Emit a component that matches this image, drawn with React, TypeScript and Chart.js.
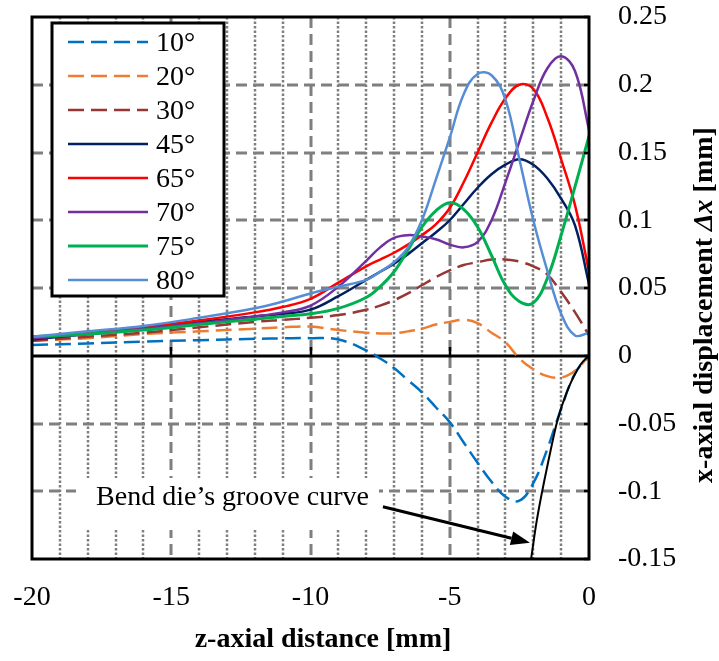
import React, { useEffect, useRef } from 'react';
import { Chart, registerables } from 'chart.js';

Chart.register(...registerables);

// ---- data ----
const X = [-20, -18, -16, -14, -12, -11, -10, -9, -8, -7.5, -7, -6.5, -6, -5.5, -5, -4.5, -4, -3.5, -3, -2.5, -2, -1.5, -1, -0.5, 0];

const S10 = [0.008, 0.009, 0.0105, 0.0115, 0.0125, 0.0128, 0.013, 0.012, 0.004, -0.002, -0.009, -0.018, -0.027, -0.038, -0.049, -0.064, -0.079, -0.093, -0.104, -0.107, -0.094, -0.069, -0.039, -0.013, 0];
const S20 = [0.011, 0.013, 0.016, 0.018, 0.020, 0.021, 0.0215, 0.019, 0.017, 0.0165, 0.0165, 0.018, 0.020, 0.023, 0.025, 0.0265, 0.024, 0.017, 0.010, -0.002, -0.010, -0.015, -0.016, -0.011, 0];
const S30 = [0.011, 0.014, 0.017, 0.021, 0.025, 0.0265, 0.028, 0.030, 0.034, 0.037, 0.041, 0.046, 0.052, 0.058, 0.063, 0.067, 0.069, 0.071, 0.071, 0.0695, 0.066, 0.060, 0.047, 0.032, 0.015];
const S45 = [0.012, 0.016, 0.020, 0.025, 0.029, 0.031, 0.034, 0.044, 0.056, 0.062, 0.068, 0.075, 0.083, 0.091, 0.100, 0.112, 0.124, 0.134, 0.141, 0.145, 0.141, 0.131, 0.116, 0.096, 0.053];
const S65 = [0.013, 0.017, 0.021, 0.026, 0.032, 0.036, 0.042, 0.054, 0.066, 0.071, 0.076, 0.082, 0.089, 0.097, 0.109, 0.128, 0.150, 0.172, 0.190, 0.200, 0.197, 0.176, 0.145, 0.111, 0.062];
const S70 = [0.013, 0.016, 0.020, 0.024, 0.029, 0.032, 0.037, 0.051, 0.070, 0.080, 0.087, 0.089, 0.088, 0.086, 0.082, 0.080, 0.084, 0.100, 0.128, 0.158, 0.188, 0.212, 0.221, 0.210, 0.167];
const S75 = [0.014, 0.016, 0.019, 0.023, 0.027, 0.029, 0.031, 0.035, 0.043, 0.051, 0.062, 0.078, 0.095, 0.107, 0.113, 0.108, 0.095, 0.074, 0.052, 0.040, 0.039, 0.057, 0.089, 0.125, 0.162];
const S80 = [0.014, 0.018, 0.022, 0.028, 0.035, 0.040, 0.046, 0.051, 0.056, 0.062, 0.069, 0.080, 0.100, 0.130, 0.161, 0.193, 0.208, 0.207, 0.189, 0.145, 0.100, 0.063, 0.031, 0.015, 0.017];

const GROOVE_X = [-2.08, -1.87, -1.4, -1.15, -0.8, -0.32, 0];
const GROOVE_Y = [-0.15, -0.121, -0.072, -0.049, -0.027, -0.007, 0];

const SERIES_LABELS = ['10°', '20°', '30°', '45°', '65°', '70°', '75°', '80°'];
const SERIES_COLORS = ['#0070C0', '#ED7D31', '#953735', '#002060', '#FF0000', '#7030A0', '#00B050', '#558ED5'];

const X_TICKS = [-20, -15, -10, -5, 0];
const X_LABELS = ['-20', '-15', '-10', '-5', '0'];
const Y_TICKS = [-0.15, -0.1, -0.05, 0, 0.05, 0.1, 0.15, 0.2, 0.25];
const Y_LABELS = ['-0.15', '-0.1', '-0.05', '0', '0.05', '0.1', '0.15', '0.2', '0.25'];
const X_MAJOR_GRID = [-15, -10, -5];

const ANNOT_TEXT = 'Bend die’s groove curve';
const ANNOT_POS = { x: -17.7, y: -0.105 };
const ARROW_FROM = { x: -7.4, y: -0.1114 };
const ARROW_TO = { x: -2.12, y: -0.138 };

const X_TITLE = 'z-axial distance [mm]';
const Y_TITLE_PARTS = [
  { t: 'x-axial displacement ', italic: false },
  { t: 'Δx', italic: true },
  { t: ' [mm]', italic: false },
];

const SERIF = '"Liberation Serif", "Times New Roman", serif';
const FS = 28;

const decor = {
  id: 'decor',
  beforeDatasetsDraw(chart: any) {
    const { ctx, chartArea: a, scales } = chart;
    const xs = scales.x, ys = scales.y;
    const vline = (px: number) => { ctx.beginPath(); ctx.moveTo(px, a.top); ctx.lineTo(px, a.bottom); ctx.stroke(); };
    const hline = (py: number) => { ctx.beginPath(); ctx.moveTo(a.left, py); ctx.lineTo(a.right, py); ctx.stroke(); };
    ctx.save();
    ctx.strokeStyle = '#7f7f7f';
    ctx.lineWidth = 2.5;
    ctx.setLineDash([2.5, 2]);
    for (let v = -19; v < 0; v++) {
      if (v % 5 === 0) continue;
      vline(Math.round(xs.getPixelForValue(v)));
    }
    ctx.lineWidth = 3;
    ctx.setLineDash([11, 6]);
    X_MAJOR_GRID.forEach(v => vline(Math.round(xs.getPixelForValue(v))));
    Y_TICKS.forEach(v => {
      if (v === 0 || v === Y_TICKS[0] || v === Y_TICKS[Y_TICKS.length - 1]) return;
      hline(Math.round(ys.getPixelForValue(v)));
    });
    ctx.setLineDash([]);
    ctx.strokeStyle = '#000';
    ctx.lineWidth = 3;
    const y0 = Math.round(ys.getPixelForValue(0));
    hline(y0);
    ctx.lineWidth = 2.5;
    X_MAJOR_GRID.forEach(v => {
      const px = Math.round(xs.getPixelForValue(v));
      ctx.beginPath(); ctx.moveTo(px, y0); ctx.lineTo(px, y0 - 9); ctx.stroke();
    });
    // white box behind annotation text
    ctx.font = FS + 'px ' + SERIF;
    const tw = ctx.measureText(ANNOT_TEXT).width;
    const tx = xs.getPixelForValue(ANNOT_POS.x), ty = ys.getPixelForValue(ANNOT_POS.y);
    ctx.fillStyle = '#fff';
    ctx.fillRect(tx - 20, ty - 20, tw + 30, 52);
    ctx.restore();
  },
  afterDraw(chart: any) {
    const { ctx, chartArea: a, scales } = chart;
    const xs = scales.x, ys = scales.y;
    ctx.save();
    ctx.strokeStyle = '#000';
    ctx.lineWidth = 3;
    ctx.setLineDash([]);
    ctx.strokeRect(a.left, a.top, a.right - a.left, a.bottom - a.top);
    ctx.lineWidth = 2.5;
    Y_TICKS.forEach(v => {
      const py = Math.round(ys.getPixelForValue(v));
      ctx.beginPath(); ctx.moveTo(a.right, py); ctx.lineTo(a.right - 5, py); ctx.stroke();
    });

    // legend
    const lx = 52, ly = 23, lw = 172, lh = 273;
    ctx.fillStyle = '#fff';
    ctx.fillRect(lx, ly, lw, lh);
    ctx.lineWidth = 3;
    ctx.strokeStyle = '#000';
    ctx.strokeRect(lx, ly, lw, lh);
    ctx.font = FS + 'px ' + SERIF;
    ctx.textBaseline = 'middle';
    ctx.textAlign = 'left';
    chart.data.datasets.slice(0, SERIES_LABELS.length).forEach((ds: any, i: number) => {
      const yy = ly + 19 + i * 34.0;
      ctx.strokeStyle = ds.borderColor;
      ctx.lineWidth = ds.borderWidth;
      ctx.setLineDash(ds.borderDash || []);
      ctx.beginPath(); ctx.moveTo(lx + 16, yy); ctx.lineTo(lx + 96, yy); ctx.stroke();
      ctx.setLineDash([]);
      ctx.fillStyle = '#000';
      ctx.fillText(ds.label, lx + 104, yy + 2);
    });

    // annotation
    ctx.fillStyle = '#000';
    ctx.font = FS + 'px ' + SERIF;
    ctx.textBaseline = 'middle';
    ctx.fillText(ANNOT_TEXT, xs.getPixelForValue(ANNOT_POS.x), ys.getPixelForValue(ANNOT_POS.y));
    const x1 = xs.getPixelForValue(ARROW_FROM.x), y1 = ys.getPixelForValue(ARROW_FROM.y);
    const x2 = xs.getPixelForValue(ARROW_TO.x), y2 = ys.getPixelForValue(ARROW_TO.y);
    const ang = Math.atan2(y2 - y1, x2 - x1);
    const hl = 19, hw = 7;
    const bx = x2 - hl * Math.cos(ang), by = y2 - hl * Math.sin(ang);
    ctx.strokeStyle = '#000';
    ctx.lineWidth = 3;
    ctx.beginPath(); ctx.moveTo(x1, y1); ctx.lineTo(bx, by); ctx.stroke();
    ctx.beginPath();
    ctx.moveTo(x2, y2);
    ctx.lineTo(bx + hw * Math.sin(ang), by - hw * Math.cos(ang));
    ctx.lineTo(bx - hw * Math.sin(ang), by + hw * Math.cos(ang));
    ctx.closePath();
    ctx.fill();

    // x title
    ctx.font = 'bold ' + FS + 'px ' + SERIF;
    ctx.textAlign = 'center';
    ctx.textBaseline = 'middle';
    ctx.fillText(X_TITLE, 323, 640);

    // y title
    ctx.save();
    ctx.translate(705, 305);
    ctx.rotate(-Math.PI / 2);
    ctx.textAlign = 'left';
    const fonts = Y_TITLE_PARTS.map(p => (p.italic ? 'italic bold ' : 'bold ') + FS + 'px ' + SERIF);
    let total = 0;
    const widths = Y_TITLE_PARTS.map((p, i) => { ctx.font = fonts[i]; const w = ctx.measureText(p.t).width; total += w; return w; });
    let xx = -total / 2;
    Y_TITLE_PARTS.forEach((p, i) => { ctx.font = fonts[i]; ctx.fillText(p.t, xx, 0); xx += widths[i]; });
    ctx.restore();

    ctx.restore();
  },
};

const zeroPad = (s: any) => { s.paddingTop = 0; s.paddingBottom = 0; s.paddingLeft = 0; s.paddingRight = 0; };

export default function App() {
  const ref = useRef<HTMLCanvasElement | null>(null);
  useEffect(() => {
    if (!ref.current) return;
    const series = [S10, S20, S30, S45, S65, S70, S75, S80];
    const dashed = [true, true, true, false, false, false, false, false];
    const widths = [2.5, 2.5, 2.5, 2.5, 2.5, 2.5, 3, 2.5];
    const datasets: any[] = series.map((s, i) => ({
      label: SERIES_LABELS[i],
      data: X.map((x, j) => ({ x, y: s[j] })),
      borderColor: SERIES_COLORS[i],
      backgroundColor: SERIES_COLORS[i],
      borderWidth: widths[i],
      borderDash: dashed[i] ? [16, 7] : [],
      pointRadius: 0,
      tension: 0.4,
      fill: false,
      order: 10 - i,
    }));
    datasets.push({
      label: 'Bend die groove',
      data: GROOVE_X.map((x, j) => ({ x, y: GROOVE_Y[j] })),
      borderColor: '#000',
      backgroundColor: '#000',
      borderWidth: 2,
      pointRadius: 0,
      cubicInterpolationMode: 'monotone',
      fill: false,
      order: 0,
    });
    const chart = new Chart(ref.current, {
      type: 'line',
      data: { datasets },
      options: {
        animation: false,
        responsive: false,
        layout: { padding: { left: 32, top: 17, right: 0, bottom: 0 } },
        plugins: { legend: { display: false }, tooltip: { enabled: false } },
        scales: {
          x: {
            type: 'linear',
            min: -20,
            max: 0,
            grid: { display: false },
            border: { display: false },
            afterBuildTicks: (s: any) => { s.ticks = X_TICKS.map(v => ({ value: v })); },
            afterFit: (s: any) => { s.height = 102; zeroPad(s); },
            ticks: {
              padding: 14,
              color: '#000',
              font: { family: SERIF, size: FS },
              maxRotation: 0,
              callback: (_v: any, i: number) => X_LABELS[i],
            },
          },
          y: {
            type: 'linear',
            position: 'right',
            min: -0.15,
            max: 0.25,
            grid: { display: false },
            border: { display: false },
            afterBuildTicks: (s: any) => { s.ticks = Y_TICKS.map(v => ({ value: v })); },
            afterFit: (s: any) => { s.width = 130; zeroPad(s); },
            ticks: {
              padding: 21,
              color: '#000',
              font: { family: SERIF, size: FS },
              callback: (_v: any, i: number) => Y_LABELS[i],
            },
          },
        },
      },
      plugins: [decor],
    } as any);
    return () => chart.destroy();
  }, []);
  return (
    <div style={{ position: 'absolute', left: 0, top: 0, width: 719, height: 661, background: '#fff' }}>
      <canvas ref={ref} width={719} height={661} style={{ display: 'block' }} />
    </div>
  );
}
